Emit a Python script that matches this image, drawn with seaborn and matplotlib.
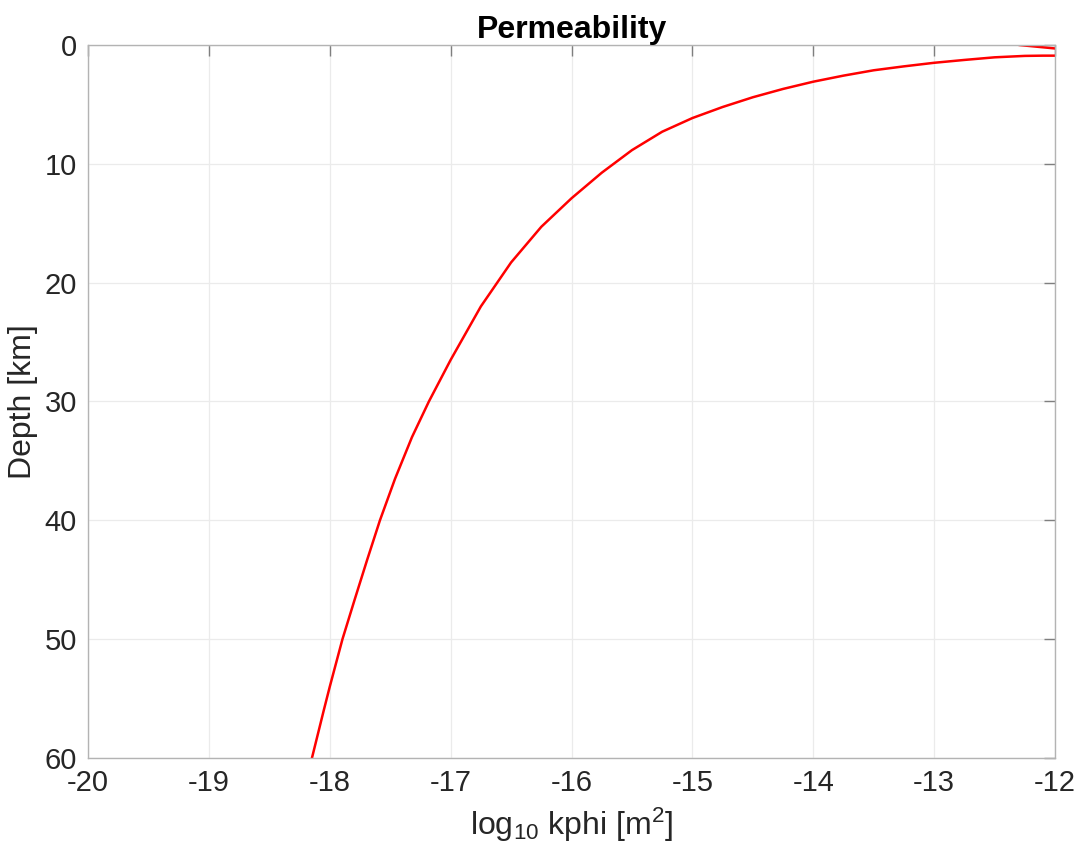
import numpy as np
import pandas as pd
import seaborn as sns
import matplotlib
matplotlib.use("Agg")
import matplotlib.pyplot as plt

# permeability profile (log10 k in m^2, depth in km)
# the first few points run past the right edge and get clipped, as in the original
log_k = [-12.30, -11.5, -11.5, -12.0, -12.1, -12.25, -12.5, -12.75, -13.0, -13.25,
         -13.5, -13.75, -14.0, -14.25, -14.5, -14.75, -15.0, -15.25, -15.5,
         -15.75, -16.0, -16.25, -16.5, -16.75, -17.0, -17.18, -17.32, -17.46,
         -17.585, -17.69, -17.795, -17.895, -18.0, -18.05, -18.145, -18.16]
depth = [0.0, 0.67, 0.9, 0.9, 0.9, 0.92, 1.04, 1.26, 1.50, 1.80,
         2.13, 2.58, 3.09, 3.70, 4.40, 5.22, 6.15, 7.30, 8.85,
         10.75, 12.90, 15.3, 18.3, 22.0, 26.5, 30.0, 33.0, 36.5,
         40.0, 43.3, 46.7, 50.0, 54.0, 56.0, 59.9, 60.5]

df = pd.DataFrame({"logk": log_k, "depth": depth})

sns.set_style("whitegrid")
plt.rcParams['font.family'] = ['Liberation Sans', 'DejaVu Sans']
plt.rcParams['mathtext.fontset'] = 'custom'
plt.rcParams['mathtext.rm'] = 'Liberation Sans'
plt.rcParams['mathtext.it'] = 'Liberation Sans'
plt.rcParams['axes.unicode_minus'] = False

txt = '#262626'
fig = plt.figure(figsize=(10.84, 8.63), dpi=100)
ax = fig.add_axes([0.0812, 0.1217, 0.8921, 0.8262])

sns.lineplot(data=df, x="logk", y="depth", sort=False, color='red', lw=1.8, ax=ax)

ax.set_xlim(-20, -12)
ax.set_ylim(60, 0)
ax.set_xticks(np.arange(-20, -11, 1))
ax.set_yticks(np.arange(0, 61, 10))
ax.grid(True, color='#ebebeb', lw=0.9)
for s in ax.spines.values():
    s.set_color('#b3b3b3')
    s.set_linewidth(1.0)
ax.tick_params(direction='in', length=8, width=1, color='#7f7f7f',
               top=True, right=True, labelsize=21, labelcolor=txt, pad=8)
ax.set_title('Permeability', fontsize=23, fontweight='bold', color='black', pad=5)
ax.set_xlabel(r'log$_{\mathregular{10}}$ kphi [m$^{\mathregular{2}}$]', fontsize=23, color=txt, labelpad=6)
ax.set_ylabel('Depth [km]', fontsize=23, color=txt, labelpad=5)

fig.savefig('out.png', dpi=100)
